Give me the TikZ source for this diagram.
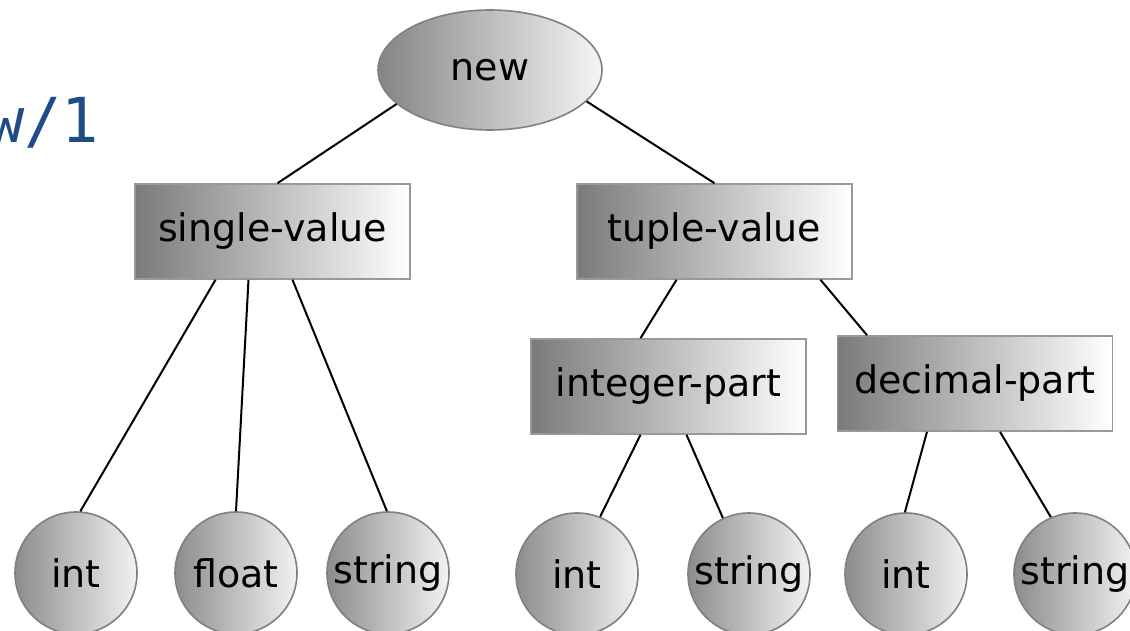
\documentclass[tikz,border=0pt]{standalone}
\usepackage{fontspec}
\setmainfont{DejaVu Sans}
\newfontfamily\codefont{DejaVu Sans Mono}
\usetikzlibrary{calc, shapes.geometric}

\definecolor{codeblue}{RGB}{31,75,135}
\definecolor{edgegray}{RGB}{128,128,128}

\begin{document}
\begin{tikzpicture}[x=0.5pt, y=-0.5pt, font=\fontsize{19}{23}\selectfont,
    root/.style={ellipse, draw=edgegray, line width=0.8pt, shading=axis,
        left color=black!48, right color=black!4,
        minimum width=112pt, minimum height=60pt, inner sep=0pt},
    group/.style={rectangle, draw=black!40, line width=0.8pt, shading=axis,
        left color=black!52, right color=white,
        minimum width=137.5pt, minimum height=47.5pt, inner sep=0pt},
    leaf/.style={circle, draw=edgegray, line width=0.8pt, shading=axis,
        left color=black!45, right color=black!5,
        minimum size=61pt, inner sep=0pt},
    link/.style={line width=1pt, black}]

    % --- 1. Canvas ---
    \useasboundingbox (0,0) rectangle (1130,631);

    % cut-off title at the left
    \node[anchor=base, inner sep=0pt, text=codeblue,
        font=\codefont\fontsize{31}{36}\selectfont] (title) at (43,142) {w/1};

    % --- 2. Nodes ---
    \node[root] (new) at (490,70) {new};

    \node[group] (single) at (272.5,231.5) {single-value};
    \node[group] (tuple) at (714.5,231.5) {tuple-value};
    \node[group] (intpart) at (668.5,386.5) {integer-part};
    \node[group] (decpart) at (975,383.5) {decimal-part};

    % leaves of single-value
    \node[leaf] (sint) at (76,573) {int};
    \node[leaf] (sfloat) at (236,573) {float};
    \node[leaf] (sstring) at (388,573) {string};

    % leaves of integer-part and decimal-part
    \node[leaf] (iint) at (577,574) {int};
    \node[leaf] (istring) at (749,574) {string};
    \node[leaf] (dint) at (906,574) {int};
    \node[leaf] (dstring) at (1075,574) {string};

    % --- 3. Links ---
    \draw[link] (new.200) -- ($(single.north)+(5,0)$);
    \draw[link] (new.342) -- (tuple.north);

    \draw[link] ($(single.south)+(-57,0)$) -- (sint.86);
    \draw[link] ($(single.south)+(-24,0)$) -- (sfloat.90);
    \draw[link] ($(single.south)+(20,0)$) -- (sstring.91);

    \draw[link] ($(tuple.south)+(-38,0)$) -- ($(intpart.north)+(-28,0)$);
    \draw[link] ($(tuple.south)+(106,0)$) -- ($(decpart.north)+(-108,0)$);

    \draw[link] ($(intpart.south)+(-28,0)$) -- (iint.68);
    \draw[link] ($(intpart.south)+(18,0)$) -- (istring.115);
    \draw[link] ($(decpart.south)+(-48,0)$) -- (dint.91);
    \draw[link] ($(decpart.south)+(25,0)$) -- (dstring.113);

\end{tikzpicture}
\end{document}
